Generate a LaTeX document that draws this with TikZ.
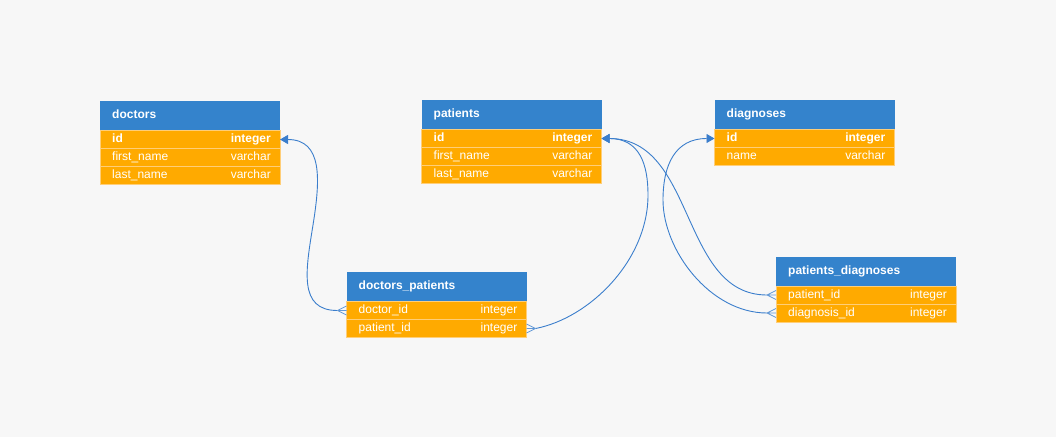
\documentclass[tikz,border=0pt]{standalone}
\usepackage{fontspec}
\setmainfont{Liberation Sans}
\usetikzlibrary{arrows.meta}
\definecolor{bg}{RGB}{247,247,247}
\definecolor{hdrblue}{RGB}{52,131,204}
\definecolor{roworange}{RGB}{255,170,0}
\definecolor{rowline}{RGB}{255,206,120}
\definecolor{linkblue}{RGB}{59,126,204}
\tikzset{
  hdr/.style={fill=hdrblue, minimum width=180pt, minimum height=29.5pt, inner sep=0pt, outer sep=0pt},
  rowbox/.style={fill=roworange, draw=rowline, line width=0.6pt, minimum width=180pt, minimum height=18pt, inner sep=0pt, outer sep=0pt},
  hdrtext/.style={text=white, font=\bfseries\fontsize{12}{14}\selectfont, inner sep=0pt, text height=8.6pt, text depth=2.6pt},
  fieldtext/.style={text=white, font=\fontsize{12}{14}\selectfont, inner sep=0pt, text height=8.6pt, text depth=2.6pt},
  keytext/.style={fieldtext, font=\bfseries\fontsize{12}{14}\selectfont},
  link/.style={draw=linkblue, line width=0.9pt},
  onearrow/.style={-{Triangle[length=8pt,width=9pt]}},
  crow/.style={draw=linkblue!80!white, line width=0.8pt},
}
\newcommand\dbhead[4]{% name, x, ytop, title
  \node[hdr, anchor=north west] (#1) at (#2,#3) {};
  \node[hdrtext, anchor=west] (#1-t) at ([xshift=12pt]#1.west) {#4};
}
\newcommand\dbrow[5]{% name, node above, field, type, text style
  \node[rowbox, anchor=north] (#1) at (#2.south) {};
  \node[#5, anchor=west] (#1-f) at ([xshift=12pt]#1.west) {#3};
  \node[#5, anchor=east] (#1-y) at ([xshift=-9pt]#1.east) {#4};
}
\newcommand\crowfoot[2]{% anchor, sign
  \draw[crow] ([xshift=#2*9pt]#1) -- ([yshift=4.5pt]#1)
              ([xshift=#2*9pt]#1) -- ([yshift=-4.5pt]#1)
              ([xshift=#2*9pt]#1) -- (#1);
}
\begin{document}
\begin{tikzpicture}[x=1pt,y=-1pt]
\fill[bg] (0,0) rectangle (1056,437);
\useasboundingbox (0,0) rectangle (1056,437);

% doctors
\dbhead{d}{100}{101}{doctors}
\dbrow{d-id}{d}{id}{integer}{keytext}
\dbrow{d-fn}{d-id}{first\_name}{varchar}{fieldtext}
\dbrow{d-ln}{d-fn}{last\_name}{varchar}{fieldtext}

% patients
\dbhead{p}{421.5}{100}{patients}
\dbrow{p-id}{p}{id}{integer}{keytext}
\dbrow{p-fn}{p-id}{first\_name}{varchar}{fieldtext}
\dbrow{p-ln}{p-fn}{last\_name}{varchar}{fieldtext}

% diagnoses
\dbhead{g}{714.5}{100}{diagnoses}
\dbrow{g-id}{g}{id}{integer}{keytext}
\dbrow{g-nm}{g-id}{name}{varchar}{fieldtext}

% doctors_patients
\dbhead{dp}{346.5}{272}{doctors\_patients}
\dbrow{dp-doc}{dp}{doctor\_id}{integer}{fieldtext}
\dbrow{dp-pat}{dp-doc}{patient\_id}{integer}{fieldtext}

% patients_diagnoses
\dbhead{pd}{776}{256.5}{patients\_diagnoses}
\dbrow{pd-pat}{pd}{patient\_id}{integer}{fieldtext}
\dbrow{pd-diag}{pd-pat}{diagnosis\_id}{integer}{fieldtext}

% crow's feet apexes
\coordinate (cfA) at ([xshift=-9pt]dp-doc.west);
\coordinate (cfB) at ([xshift=9pt]dp-pat.east);
\coordinate (cfC) at ([xshift=-9pt]pd-pat.west);
\coordinate (cfD) at ([xshift=-9pt]pd-diag.west);

% connectors
\draw[link, onearrow] (cfA) .. controls (298,310.5) and (305.8,270) .. (313,225)
      .. controls (320.2,180) and (323,139.5) .. (d-id.east);
\draw[link, onearrow] (cfB) .. controls (590,318) and (648,260) .. (648,195)
      .. controls (648,165) and (640,138.5) .. (p-id.east);
\draw[link, onearrow] (cfC) .. controls (680,295) and (696,138.5) .. (p-id.east);
\draw[link, onearrow] (cfD) .. controls (710,313) and (663,250) .. (663,200)
      .. controls (663,165) and (675,138.5) .. (g-id.west);

\crowfoot{dp-doc.west}{-1}
\crowfoot{dp-pat.east}{1}
\crowfoot{pd-pat.west}{-1}
\crowfoot{pd-diag.west}{-1}
\end{tikzpicture}
\end{document}
